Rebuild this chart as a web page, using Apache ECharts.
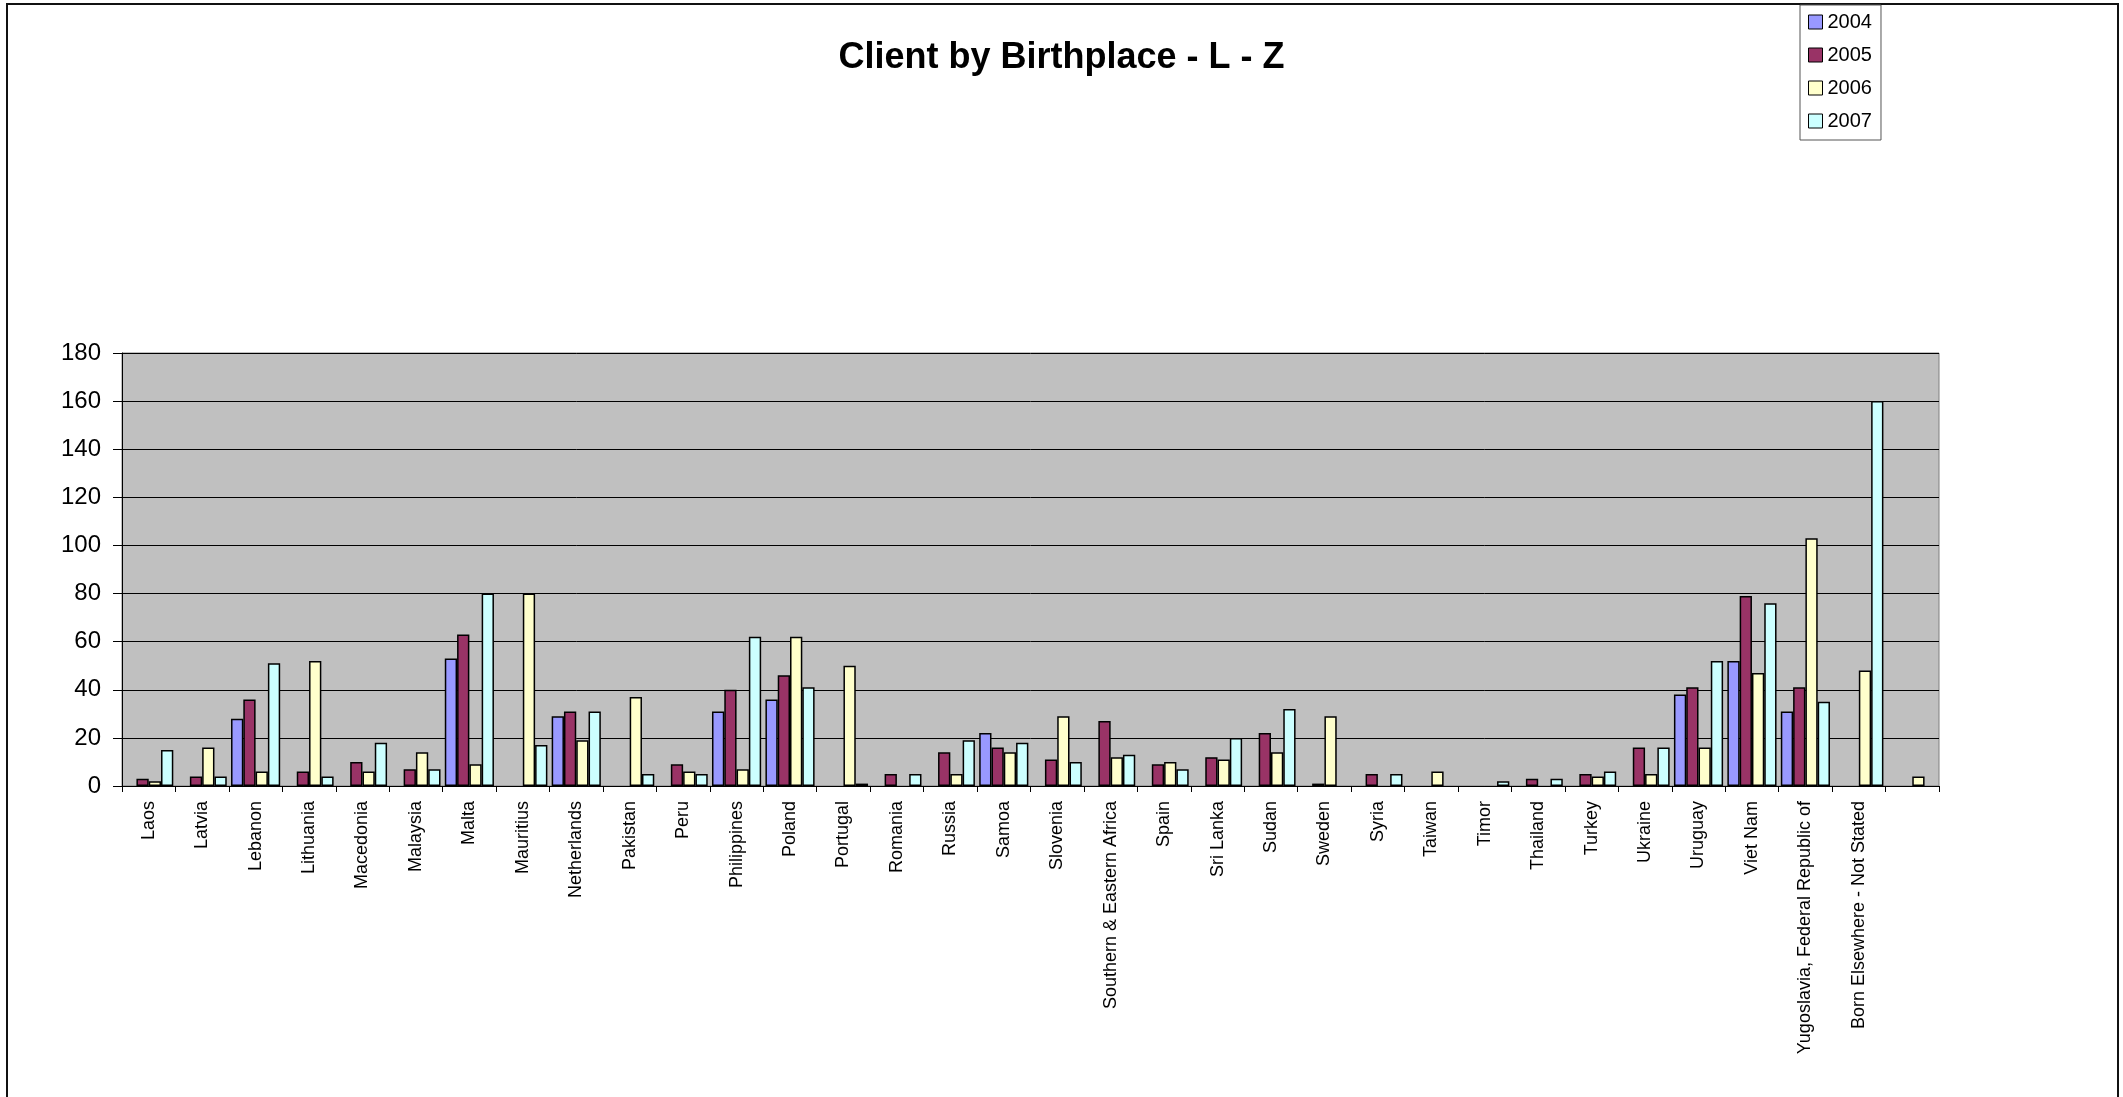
<!DOCTYPE html>
<html>
<head>
<meta charset="utf-8">
<title>Client by Birthplace - L - Z</title>
<script src="https://cdn.jsdelivr.net/npm/echarts@6/dist/echarts.min.js"></script>
<style>
  html, body { margin: 0; padding: 0; background: #fff; }
  #chart { width: 2123px; height: 1097px; }
</style>
</head>
<body>
<div id="chart"></div>
<script>
// Countries of birth, L to Z (last column is an unlabelled spare row)
const categories = [
  'Laos', 'Latvia', 'Lebanon', 'Lithuania', 'Macedonia', 'Malaysia', 'Malta',
  'Mauritius', 'Netherlands', 'Pakistan', 'Peru', 'Philippines', 'Poland',
  'Portugal', 'Romania', 'Russia', 'Samoa', 'Slovenia',
  'Southern & Eastern Africa', 'Spain', 'Sri Lanka', 'Sudan', 'Sweden',
  'Syria', 'Taiwan', 'Timor', 'Thailand', 'Turkey', 'Ukraine', 'Uruguay',
  'Viet Nam', 'Yugoslavia, Federal Republic of', 'Born Elsewhere - Not Stated', ''
];

const years = ['2004', '2005', '2006', '2007'];

// Client counts per year (null = no clients recorded)
const clients2004 = [null, null, 28, null, null, null, 53, null, 29, null, null, 31, 36,
  null, null, null, 22, null, null, null, null, null, null, null, null, null, null,
  null, null, 38, 52, 31, null, null];
const clients2005 = [3, 4, 36, 6, 10, 7, 63, null, 31, null, 9, 40, 46,
  null, 5, 14, 16, 11, 27, 9, 12, 22, 1, 5, null, null, 3,
  5, 16, 41, 79, 41, null, null];
const clients2006 = [2, 16, 6, 52, 6, 14, 9, 80, 19, 37, 6, 7, 62,
  50, null, 5, 14, 29, 12, 10, 11, 14, 29, null, 6, null, null,
  4, 5, 16, 47, 103, 48, 4];
const clients2007 = [15, 4, 51, 4, 18, 7, 80, 17, 31, 5, 5, 62, 41,
  1, 5, 19, 18, 10, 13, 7, 20, 32, null, 5, null, 2, 3,
  6, 16, 52, 76, 35, 160, null];

const yTicks = { min: 0, max: 180, interval: 20 };

const seriesColors = ['#9999FF', '#993366', '#FFFFCC', '#CCFFFF'];
const seriesData = [clients2004, clients2005, clients2006, clients2007];

const FONT = "'Liberation Sans', Arial, sans-serif";

const chart = echarts.init(document.getElementById('chart'), null, { renderer: 'canvas' });

chart.setOption({
  backgroundColor: '#ffffff',
  animation: false,
  title: {
    text: 'Client by Birthplace - L - Z',
    left: 'center',
    top: 40,
    padding: 0,
    textStyle: { fontFamily: FONT, fontSize: 36, fontWeight: 'bold', color: '#000' }
  },
  legend: {
    orient: 'vertical',
    left: 1800,
    top: 5,
    padding: [7, 9, 9, 8],
    itemWidth: 14,
    itemHeight: 14,
    itemGap: 13,
    icon: 'rect',
    borderColor: '#555',
    borderWidth: 1,
    backgroundColor: '#fff',
    itemStyle: { borderColor: '#000', borderWidth: 1 },
    textStyle: { fontFamily: FONT, fontSize: 20, lineHeight: 20, color: '#000' },
    data: years
  },
  graphic: [{
    type: 'rect',
    silent: true,
    shape: { x: 7, y: 4, width: 2111, height: 1200 },
    style: { fill: null, stroke: '#111', lineWidth: 2 }
  }],
  grid: {
    left: 122,
    right: 184,
    top: 353,
    bottom: 311,
    show: true,
    backgroundColor: '#C0C0C0',
    borderColor: '#808080',
    borderWidth: 1
  },
  xAxis: {
    type: 'category',
    data: categories,
    boundaryGap: true,
    axisLine: { lineStyle: { color: '#000', width: 1 } },
    axisTick: { show: true, length: 6, lineStyle: { color: '#000' } },
    axisLabel: {
      interval: 0,
      rotate: 90,
      margin: 15,
      fontFamily: FONT,
      fontSize: 18,
      color: '#000'
    },
    splitLine: { show: false }
  },
  yAxis: {
    type: 'value',
    min: yTicks.min,
    max: yTicks.max,
    interval: yTicks.interval,
    axisLine: { show: true, lineStyle: { color: '#000', width: 1 } },
    axisTick: { show: true, length: 9, lineStyle: { color: '#000' } },
    axisLabel: { margin: 21, fontFamily: FONT, fontSize: 24, color: '#000' },
    splitLine: { show: true, lineStyle: { color: '#000', width: 1 } }
  },
  series: years.map((y, i) => ({
    name: y,
    type: 'bar',
    data: seriesData[i],
    barGap: '0%',
    barCategoryGap: '8%',
    itemStyle: { color: seriesColors[i], borderColor: '#000', borderWidth: 1.5 }
  }))
});
</script>
</body>
</html>
